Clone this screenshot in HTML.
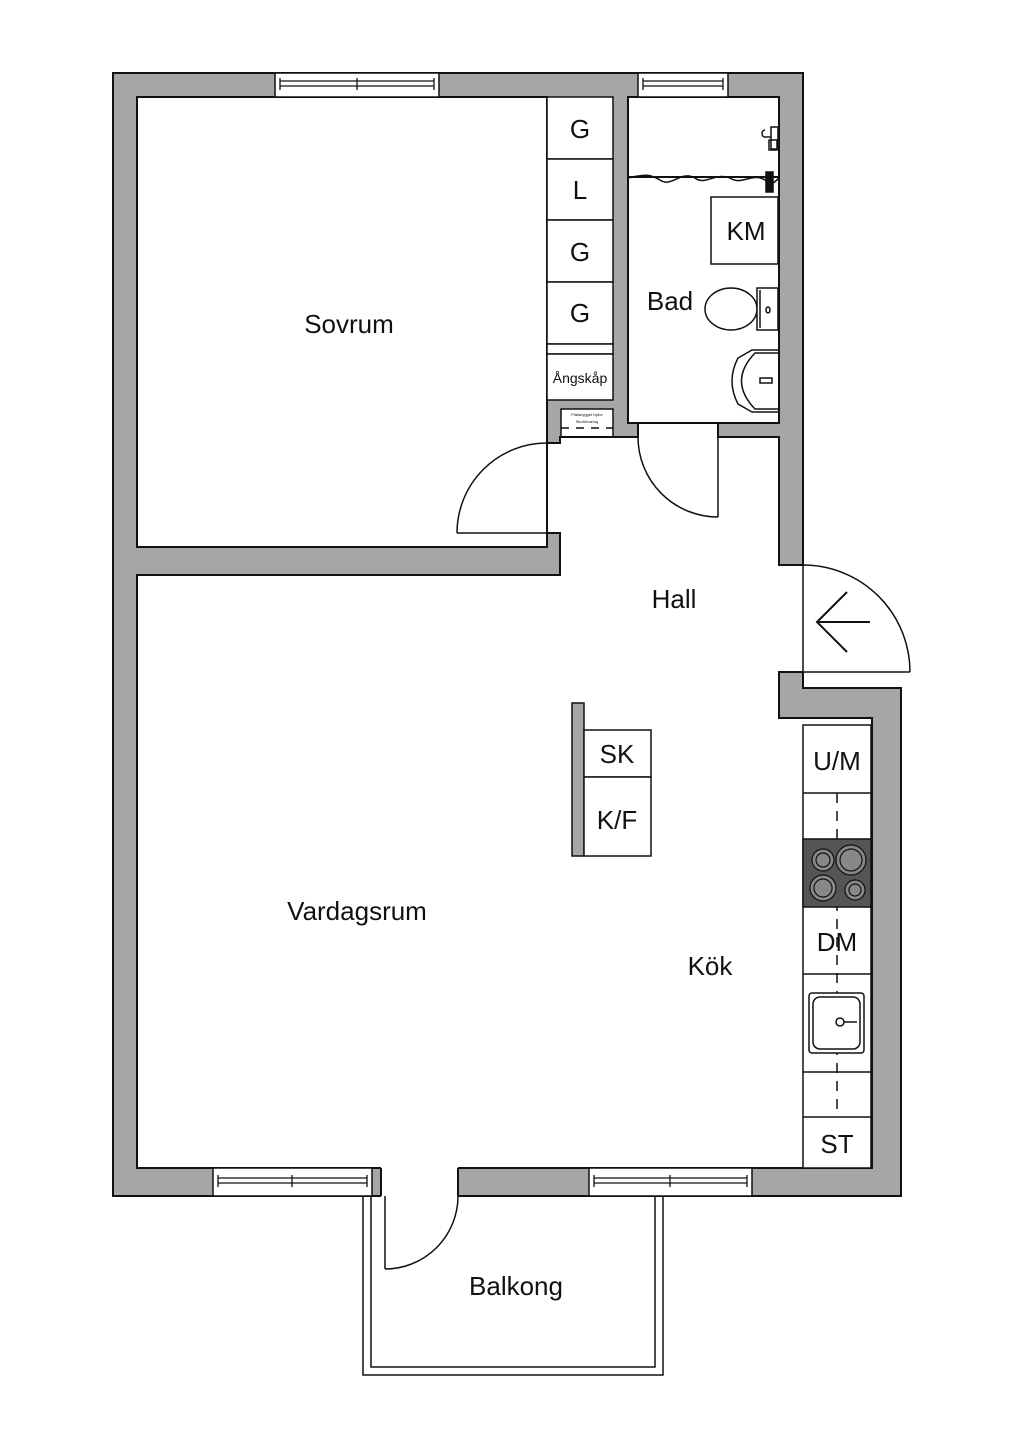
<!DOCTYPE html>
<html><head><meta charset="utf-8"><style>
html,body{margin:0;padding:0;background:#fff}
svg{display:block}
text{font-family:"Liberation Sans",sans-serif;fill:#111}
</style></head><body>
<svg width="1024" height="1448" viewBox="0 0 1024 1448" xmlns="http://www.w3.org/2000/svg">
<g stroke="#111" stroke-width="2">
<!-- gray walls -->
<polygon points="113,73 803,73 803,565 779,565 779,672 803,672 803,688 901,688 901,1196 113,1196" fill="#a6a6a6"/>
</g>
<!-- white interiors -->
<g fill="#fff" stroke="none">
<rect x="137" y="97" width="410" height="450"/>
<rect x="547" y="97" width="66" height="303"/>
<rect x="547" y="443" width="13" height="90"/>
<rect x="561" y="409" width="52" height="28"/>
<rect x="628" y="97" width="151" height="326"/>
<rect x="638" y="423" width="80" height="14"/>
<rect x="560" y="437" width="219" height="138"/>
<rect x="137" y="575" width="642" height="593"/>
<rect x="779" y="718" width="93" height="450"/>
<rect x="778" y="565" width="27" height="107"/>
<rect x="381" y="1167" width="77" height="30"/>
</g>
<g fill="none" stroke="#111" stroke-width="2">
<rect x="137" y="97" width="410" height="450"/>
<rect x="628" y="97" width="151" height="326"/>
<polyline points="381,1168 137,1168 137,575 560,575 560,533 547,533"/>
<polyline points="547,443 560,443 560,437 638,437 638,423"/>
<polyline points="718,423 718,437 779,437 779,565 803,565"/>
<polyline points="803,672 779,672 779,718 872,718 872,1168 458,1168"/>
<line x1="381" y1="1168" x2="381" y2="1196"/>
<line x1="458" y1="1168" x2="458" y2="1196"/>
<rect x="561" y="409" width="52" height="28" stroke-width="1.5"/>
<line x1="561" y1="428" x2="613" y2="428" stroke-dasharray="8,7" stroke-width="1.5"/>
</g>
<!-- windows -->
<g fill="#fff" stroke="#111" stroke-width="1.5">
<rect x="275" y="73" width="164" height="24"/>
<rect x="638" y="73" width="90" height="24"/>
<rect x="213" y="1168" width="159" height="28"/>
<rect x="589" y="1168" width="163" height="28"/>
</g>
<g fill="none" stroke="#111" stroke-width="1.3">
<path d="M280,81H434M280,86H434M280,78V90M434,78V90M357,78V90"/>
<path d="M643,81H723M643,86H723M643,78V90M723,78V90"/>
<path d="M218,1178H367M218,1183H367M218,1175V1187M367,1175V1187M292,1175V1187"/>
<path d="M594,1178H747M594,1183H747M594,1175V1187M747,1175V1187M670,1175V1187"/>
</g>
<!-- wardrobe -->
<g fill="#fff" stroke="#111" stroke-width="1.5">
<rect x="547" y="97" width="66" height="62"/>
<rect x="547" y="159" width="66" height="61"/>
<rect x="547" y="220" width="66" height="62"/>
<rect x="547" y="282" width="66" height="62"/>
<rect x="547" y="344" width="66" height="10"/>
<rect x="547" y="354" width="66" height="46"/>
</g>
<g font-size="26" text-anchor="middle">
<text x="580" y="138">G</text>
<text x="580" y="199">L</text>
<text x="580" y="261">G</text>
<text x="580" y="322">G</text>
</g>
<text x="580" y="383" font-size="14" text-anchor="middle">Ångskåp</text>
<text x="587" y="416" font-size="4" text-anchor="middle">Platsbygget hyllor</text>
<text x="587" y="423" font-size="4" text-anchor="middle">Skoförvaring</text>
<!-- doors -->
<g fill="none" stroke="#111" stroke-width="1.5">
<path d="M457,533H547M457,533A90,90 0 0 1 547,443"/>
<path d="M718,437V517M638,437A80,80 0 0 0 718,517"/>
<path d="M803,565V672H910M803,565A107,107 0 0 1 910,672"/>
<path d="M385,1196V1269M385,1269A73,73 0 0 0 458,1196"/>
</g>
<path d="M817,622H870M847,592L817,622L847,652" fill="none" stroke="#111" stroke-width="2"/>
<!-- balcony -->
<g fill="none" stroke="#111" stroke-width="1.5">
<path d="M363,1196V1375H663V1196"/>
<path d="M371,1196V1367H655V1196"/>
</g>
<!-- bath fixtures -->
<g fill="none" stroke="#111" stroke-width="1.5">
<line x1="628" y1="177" x2="779" y2="177" stroke-width="2"/>
<path d="M628,178 C645,174 650,174 660,180 C672,188 680,170 695,178 C705,186 715,172 730,178 C742,186 752,172 765,180 C772,188 776,180 779,178"/>
<rect x="766" y="172" width="7" height="20" fill="#111"/>
<path d="M771,127 h7 v22 h-7z M765,130 c-4,0 -4,7 0,7 h6 M769,140 h8 v10 h-8z"/>
<rect x="711" y="197" width="67" height="67" fill="#fff"/>
<ellipse cx="731" cy="309" rx="26" ry="21" fill="#fff"/>
<path d="M757,288 H778 V330 H757 Z" fill="#fff"/>
<path d="M760,290 V328"/>
<ellipse cx="768" cy="310" rx="2" ry="3"/>
<path d="M778,350 H752 L738,358 Q726,381 738,404 L752,412 H778"/>
<path d="M778,353 H755 Q728,381 755,409 H778"/>
<path d="M760,378 H772 V383 H760 Z"/>
</g>
<text x="746" y="240" font-size="26" text-anchor="middle">KM</text>
<text x="670" y="310" font-size="26" text-anchor="middle">Bad</text>
<!-- kitchen -->
<g stroke="#111" stroke-width="1.5">
<rect x="803" y="725" width="68" height="443" fill="#fff"/>
<line x1="803" y1="793" x2="871" y2="793"/>
<line x1="803" y1="974" x2="871" y2="974"/>
<line x1="803" y1="1072" x2="871" y2="1072"/>
<line x1="803" y1="1117" x2="871" y2="1117"/>
<line x1="837" y1="793" x2="837" y2="1117" stroke-dasharray="10,8"/>
<rect x="803" y="839" width="68" height="68" fill="#555"/>
</g>
<g stroke="#111" stroke-width="1.2" fill="#888">
<circle cx="823" cy="860" r="11"/><circle cx="823" cy="860" r="7"/>
<circle cx="851" cy="860" r="15"/><circle cx="851" cy="860" r="11"/>
<circle cx="823" cy="888" r="13"/><circle cx="823" cy="888" r="9"/>
<circle cx="855" cy="890" r="10"/><circle cx="855" cy="890" r="6"/>
</g>
<g fill="none" stroke="#111" stroke-width="1.5">
<rect x="809" y="993" width="55" height="60" rx="3" fill="#fff"/>
<rect x="813" y="997" width="47" height="52" rx="7"/>
<circle cx="840" cy="1022" r="4"/>
<line x1="844" y1="1022" x2="857" y2="1022"/>
</g>
<g font-size="26" text-anchor="middle">
<text x="837" y="770">U/M</text>
<text x="837" y="951">DM</text>
<text x="837" y="1153">ST</text>
</g>
<!-- island -->
<rect x="572" y="703" width="12" height="153" fill="#a6a6a6" stroke="#111" stroke-width="1.5"/>
<g fill="#fff" stroke="#111" stroke-width="1.5">
<rect x="584" y="730" width="67" height="47"/>
<rect x="584" y="777" width="67" height="79"/>
</g>
<text x="617" y="763" font-size="26" text-anchor="middle">SK</text>
<text x="617" y="829" font-size="26" text-anchor="middle">K/F</text>
<!-- room labels -->
<g font-size="26" text-anchor="middle">
<text x="349" y="333">Sovrum</text>
<text x="674" y="608">Hall</text>
<text x="357" y="920">Vardagsrum</text>
<text x="710" y="975">Kök</text>
<text x="516" y="1295">Balkong</text>
</g>
</svg>
</body></html>
